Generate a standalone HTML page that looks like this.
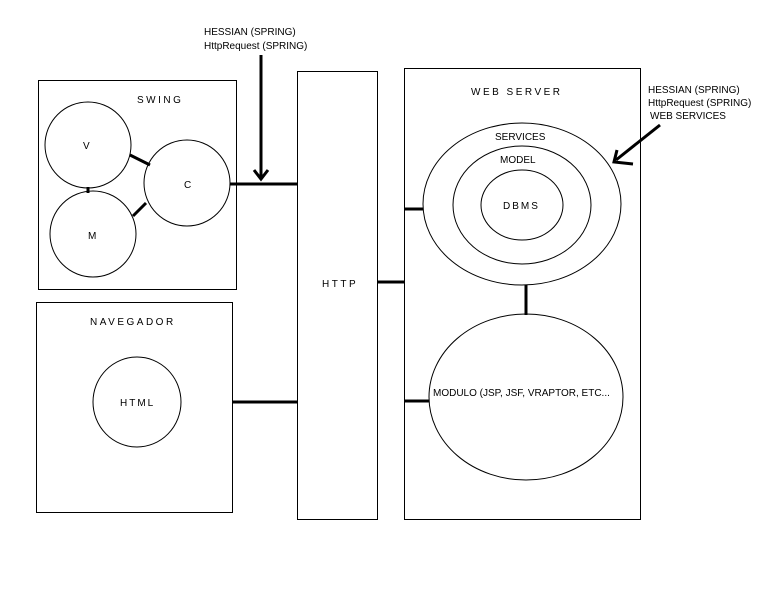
<!DOCTYPE html>
<html><head><meta charset="utf-8"><style>
html,body{margin:0;padding:0;background:#fff;}
svg{display:block}
text{font-family:"Liberation Sans",Arial,sans-serif;font-size:10px;fill:#000}
</style></head><body>
<svg width="779" height="592" viewBox="0 0 779 592" xmlns="http://www.w3.org/2000/svg">
<rect width="779" height="592" fill="#fff"/>
<g fill="none" stroke="#000" stroke-width="1">
<rect x="38.5" y="80.5" width="198" height="209"/>
<rect x="36.5" y="302.5" width="196" height="210"/>
<rect x="297.5" y="71.5" width="80" height="448"/>
<rect x="404.5" y="68.5" width="236" height="451"/>
<circle cx="88" cy="145" r="43"/>
<circle cx="93" cy="234" r="43"/>
<circle cx="187" cy="183" r="43"/>
<ellipse cx="137" cy="402" rx="44" ry="45"/>
<ellipse cx="522" cy="204" rx="99" ry="81"/>
<ellipse cx="522" cy="205" rx="69" ry="59"/>
<ellipse cx="522" cy="205" rx="41" ry="35"/>
<ellipse cx="526" cy="397" rx="97" ry="83"/>
</g>
<g stroke="#000" stroke-width="3" fill="none">
<line x1="130" y1="155" x2="150" y2="165"/>
<line x1="88" y1="187" x2="88" y2="193"/>
<line x1="133" y1="216" x2="146" y2="203"/>
<line x1="230" y1="184" x2="297" y2="184"/>
<line x1="261" y1="55" x2="261" y2="178"/>
<polyline points="254,170 261,179 268,170"/>
<line x1="232" y1="402" x2="297" y2="402"/>
<line x1="377" y1="282" x2="404" y2="282"/>
<line x1="404" y1="209" x2="423" y2="209"/>
<line x1="404" y1="401" x2="429" y2="401"/>
<line x1="526" y1="285" x2="526" y2="315"/>
<line x1="660" y1="125" x2="616" y2="160"/>
<polyline points="617,150 614,162 633,164"/>
</g>
<text x="137" y="103" letter-spacing="2.5">SWING</text>
<text x="83" y="149">V</text>
<text x="88" y="239">M</text>
<text x="184" y="188">C</text>
<text x="90" y="325" letter-spacing="2.5">NAVEGADOR</text>
<text x="120" y="406" letter-spacing="2">HTML</text>
<text x="322" y="287" letter-spacing="2.5">HTTP</text>
<text x="471" y="95" letter-spacing="2.5">WEB SERVER</text>
<text x="495" y="140">SERVICES</text>
<text x="500" y="163">MODEL</text>
<text x="503" y="209" letter-spacing="2">DBMS</text>
<text x="433" y="396">MODULO (JSP, JSF, VRAPTOR, ETC...</text>
<text x="204" y="35">HESSIAN (SPRING)</text>
<text x="204" y="49">HttpRequest (SPRING)</text>
<text x="648" y="93">HESSIAN (SPRING)</text>
<text x="648" y="106">HttpRequest (SPRING)</text>
<text x="650" y="119">WEB SERVICES</text>
</svg>
</body></html>
